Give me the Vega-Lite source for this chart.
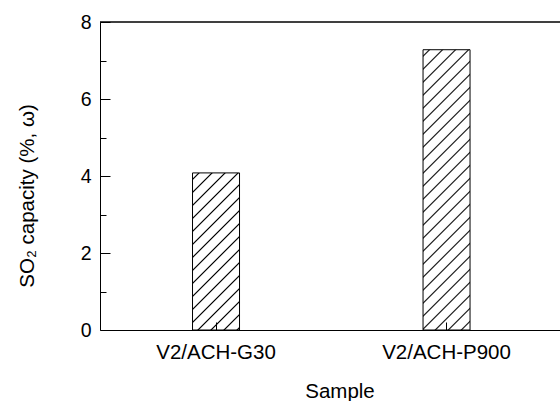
{
  "$schema": "https://vega.github.io/schema/vega-lite/v6.json",
  "width": 460,
  "height": 308,
  "autosize": "none",
  "padding": {"left": 100, "top": 22, "right": 0, "bottom": 71},
  "background": "white",
  "config": {
    "view": {"stroke": null},
    "font": "Liberation Sans",
    "axis": {
      "labelFont": "Liberation Sans",
      "titleFont": "Liberation Sans",
      "labelColor": "black",
      "titleColor": "black",
      "domainColor": "black",
      "tickColor": "black",
      "labelFontSize": 20.5,
      "titleFontSize": 20.5,
      "titleFontWeight": "normal",
      "grid": false
    }
  },
  "data": {
    "values": [
      {"Sample": "V2/ACH-G30", "capacity": 4.08},
      {"Sample": "V2/ACH-P900", "capacity": 7.28}
    ]
  },
  "layer": [
    {
      "transform": [{"filter": "datum.Sample === 'V2/ACH-G30'"}],
      "mark": {
        "type": "bar",
        "stroke": "black",
        "strokeWidth": 1,
        "fill": {
          "gradient": "linear", "x1": 0, "y1": 0, "x2": 0.356, "y2": 1.1925,
          "stops": [
            {"offset": 0.024510, "color": "white"}, {"offset": 0.031863, "color": "black"}, {"offset": 0.039216, "color": "white"},
            {"offset": 0.088235, "color": "white"}, {"offset": 0.095588, "color": "black"}, {"offset": 0.102941, "color": "white"},
            {"offset": 0.151961, "color": "white"}, {"offset": 0.159314, "color": "black"}, {"offset": 0.166667, "color": "white"},
            {"offset": 0.215686, "color": "white"}, {"offset": 0.223039, "color": "black"}, {"offset": 0.230392, "color": "white"},
            {"offset": 0.279412, "color": "white"}, {"offset": 0.286765, "color": "black"}, {"offset": 0.294118, "color": "white"},
            {"offset": 0.343137, "color": "white"}, {"offset": 0.350490, "color": "black"}, {"offset": 0.357843, "color": "white"},
            {"offset": 0.406863, "color": "white"}, {"offset": 0.414216, "color": "black"}, {"offset": 0.421569, "color": "white"},
            {"offset": 0.470588, "color": "white"}, {"offset": 0.477941, "color": "black"}, {"offset": 0.485294, "color": "white"},
            {"offset": 0.534314, "color": "white"}, {"offset": 0.541667, "color": "black"}, {"offset": 0.549020, "color": "white"},
            {"offset": 0.598039, "color": "white"}, {"offset": 0.605392, "color": "black"}, {"offset": 0.612745, "color": "white"},
            {"offset": 0.661765, "color": "white"}, {"offset": 0.669118, "color": "black"}, {"offset": 0.676471, "color": "white"},
            {"offset": 0.725490, "color": "white"}, {"offset": 0.732843, "color": "black"}, {"offset": 0.740196, "color": "white"},
            {"offset": 0.789216, "color": "white"}, {"offset": 0.796569, "color": "black"}, {"offset": 0.803922, "color": "white"},
            {"offset": 0.852941, "color": "white"}, {"offset": 0.860294, "color": "black"}, {"offset": 0.867647, "color": "white"},
            {"offset": 0.916667, "color": "white"}, {"offset": 0.924020, "color": "black"}, {"offset": 0.931373, "color": "white"},
            {"offset": 0.980392, "color": "white"}, {"offset": 0.987745, "color": "black"}, {"offset": 0.995098, "color": "white"}
          ]
        }
      },
      "encoding": {
        "x": {
          "field": "Sample",
          "type": "nominal",
          "sort": ["V2/ACH-G30", "V2/ACH-P900"],
          "scale": {"domain": ["V2/ACH-G30", "V2/ACH-P900"], "paddingInner": 0.7961, "paddingOuter": 0.3958, "align": 0.507},
          "axis": {
            "title": "Sample",
            "zindex": 2,
            "labelAngle": 0,
            "tickSize": -8,
            "labelBaseline": "alphabetic",
            "labelPadding": 36.5,
            "titleX": 239.5,
            "titleY": 67.5,
            "titleBaseline": "alphabetic",
            "titleAnchor": "middle",
            "titleAlign": "center"
          }
        },
        "y": {
          "field": "capacity",
          "type": "quantitative",
          "scale": {"domain": [0, 8], "nice": false, "zero": true},
          "axis": {
            "title": "SO₂ capacity (%, ω)",
            "zindex": 2,
            "values": [0, 1, 2, 3, 4, 5, 6, 7, 8],
            "tickCount": 20,
            "format": "d",
            "labelExpr": "datum.value % 2 === 0 ? datum.label : ''",
            "labelFontSize": 19.5,
            "tickSize": {"condition": {"test": "datum.value % 2 === 0", "value": -10}, "value": -6},
            "labelPadding": 19,
            "titleX": -67,
            "titleY": 173.5,
            "titleAngle": -90,
            "titleBaseline": "alphabetic",
            "titleAlign": "center",
            "titleAnchor": "middle"
          }
        }
      }
    },
    {
      "transform": [{"filter": "datum.Sample === 'V2/ACH-P900'"}],
      "mark": {
        "type": "bar",
        "stroke": "black",
        "strokeWidth": 1,
        "fill": {
          "gradient": "linear", "x1": 0, "y1": 0, "x2": 0.19001, "y2": 1.13555,
          "stops": [
            {"offset": 0.015281, "color": "white"}, {"offset": 0.019865, "color": "black"}, {"offset": 0.024450, "color": "white"},
            {"offset": 0.055012, "color": "white"}, {"offset": 0.059596, "color": "black"}, {"offset": 0.064180, "color": "white"},
            {"offset": 0.094743, "color": "white"}, {"offset": 0.099327, "color": "black"}, {"offset": 0.103911, "color": "white"},
            {"offset": 0.134473, "color": "white"}, {"offset": 0.139058, "color": "black"}, {"offset": 0.143641, "color": "white"},
            {"offset": 0.174203, "color": "white"}, {"offset": 0.178788, "color": "black"}, {"offset": 0.183372, "color": "white"},
            {"offset": 0.213934, "color": "white"}, {"offset": 0.218518, "color": "black"}, {"offset": 0.223103, "color": "white"},
            {"offset": 0.253665, "color": "white"}, {"offset": 0.258249, "color": "black"}, {"offset": 0.262833, "color": "white"},
            {"offset": 0.293395, "color": "white"}, {"offset": 0.297980, "color": "black"}, {"offset": 0.302564, "color": "white"},
            {"offset": 0.333126, "color": "white"}, {"offset": 0.337710, "color": "black"}, {"offset": 0.342294, "color": "white"},
            {"offset": 0.372856, "color": "white"}, {"offset": 0.377441, "color": "black"}, {"offset": 0.382025, "color": "white"},
            {"offset": 0.412587, "color": "white"}, {"offset": 0.417171, "color": "black"}, {"offset": 0.421756, "color": "white"},
            {"offset": 0.452318, "color": "white"}, {"offset": 0.456902, "color": "black"}, {"offset": 0.461486, "color": "white"},
            {"offset": 0.492048, "color": "white"}, {"offset": 0.496633, "color": "black"}, {"offset": 0.501217, "color": "white"},
            {"offset": 0.531779, "color": "white"}, {"offset": 0.536363, "color": "black"}, {"offset": 0.540947, "color": "white"},
            {"offset": 0.571509, "color": "white"}, {"offset": 0.576094, "color": "black"}, {"offset": 0.580678, "color": "white"},
            {"offset": 0.611240, "color": "white"}, {"offset": 0.615824, "color": "black"}, {"offset": 0.620409, "color": "white"},
            {"offset": 0.650971, "color": "white"}, {"offset": 0.655555, "color": "black"}, {"offset": 0.660139, "color": "white"},
            {"offset": 0.690701, "color": "white"}, {"offset": 0.695286, "color": "black"}, {"offset": 0.699870, "color": "white"},
            {"offset": 0.730432, "color": "white"}, {"offset": 0.735016, "color": "black"}, {"offset": 0.739600, "color": "white"},
            {"offset": 0.770162, "color": "white"}, {"offset": 0.774747, "color": "black"}, {"offset": 0.779331, "color": "white"},
            {"offset": 0.809893, "color": "white"}, {"offset": 0.814477, "color": "black"}, {"offset": 0.819062, "color": "white"},
            {"offset": 0.849624, "color": "white"}, {"offset": 0.854208, "color": "black"}, {"offset": 0.858792, "color": "white"},
            {"offset": 0.889354, "color": "white"}, {"offset": 0.893939, "color": "black"}, {"offset": 0.898523, "color": "white"},
            {"offset": 0.929085, "color": "white"}, {"offset": 0.933669, "color": "black"}, {"offset": 0.938253, "color": "white"},
            {"offset": 0.968815, "color": "white"}, {"offset": 0.973400, "color": "black"}, {"offset": 0.977984, "color": "white"}
          ]
        }
      },
      "encoding": {
        "x": {"field": "Sample", "type": "nominal", "sort": ["V2/ACH-G30", "V2/ACH-P900"]},
        "y": {"field": "capacity", "type": "quantitative"}
      }
    },
    {
      "mark": {"type": "rule", "color": "black", "strokeWidth": 1},
      "encoding": {"y": {"datum": 8, "type": "quantitative"}}
    }
  ]
}
